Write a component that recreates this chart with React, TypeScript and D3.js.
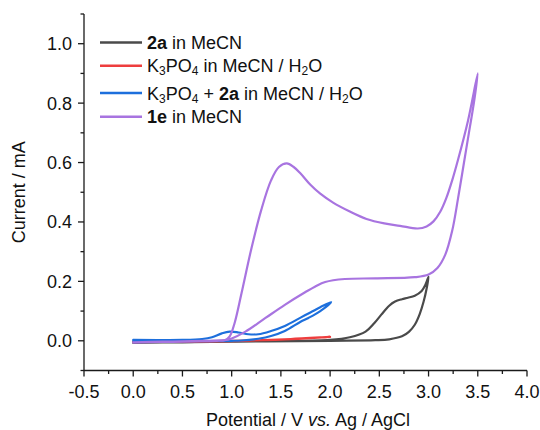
import React from "react";
import * as d3 from "d3";

// ---- data (potential V, current mA), in scan order ----
const xTicks = [-0.5, 0.0, 0.5, 1.0, 1.5, 2.0, 2.5, 3.0, 3.5, 4.0];
const yTicks = [0.0, 0.2, 0.4, 0.6, 0.8, 1.0];

const black2a: [number, number][] = [
  [0, -0.007], [0.5, -0.005], [1.0, -0.003], [1.5, -0.001], [2.0, 0.003], [2.2, 0.012],
  [2.36, 0.031], [2.45, 0.06], [2.52, 0.088], [2.6, 0.118], [2.66, 0.132], [2.73, 0.14],
  [2.79, 0.145], [2.86, 0.152], [2.93, 0.168], [2.97, 0.19], [3.0, 0.216],
  [2.98, 0.175], [2.95, 0.132], [2.91, 0.09], [2.86, 0.054], [2.8, 0.03], [2.73, 0.015],
  [2.6, 0.005], [2.46, 0.002], [2.0, 0.0], [1.0, -0.003], [0, -0.006],
];

const redK3PO4: [number, number][] = [
  [0, -0.004], [0.5, -0.003], [1.0, -0.001], [1.3, 0.002], [1.6, 0.006], [2.0, 0.013],
  [1.8, 0.009], [1.5, 0.004], [1.0, 0.0], [0.5, -0.002], [0, -0.003],
];

const blueMix: [number, number][] = [
  [0, 0.003], [0.5, 0.003], [0.7, 0.006], [0.8, 0.012], [0.9, 0.025], [0.98, 0.031],
  [1.07, 0.028], [1.17, 0.022], [1.27, 0.022], [1.4, 0.033], [1.54, 0.05], [1.7, 0.078],
  [1.78, 0.092], [1.9, 0.113], [2.01, 0.13],
  [1.9, 0.1], [1.78, 0.077], [1.7, 0.064], [1.54, 0.033], [1.4, 0.016], [1.27, 0.007],
  [1.1, 0.001], [1.0, 0.0], [0.5, -0.001], [0, 0.0],
];

const purple1e: [number, number][] = [
  [0, -0.006], [0.3, -0.004], [0.6, -0.002], [0.85, 0.0], [0.93, 0.002], [0.98, 0.015],
  [1.03, 0.06], [1.1, 0.16], [1.2, 0.31], [1.3, 0.44], [1.4, 0.54], [1.48, 0.585],
  [1.56, 0.597], [1.63, 0.585], [1.7, 0.563], [1.8, 0.525], [1.9, 0.495], [2.03, 0.465],
  [2.2, 0.435], [2.37, 0.41], [2.55, 0.395], [2.71, 0.387], [2.89, 0.378], [2.98, 0.385],
  [3.05, 0.402], [3.12, 0.435], [3.18, 0.48], [3.24, 0.54], [3.3, 0.61], [3.4, 0.74], [3.5, 0.9],
  [3.46, 0.8], [3.42, 0.72], [3.36, 0.6], [3.3, 0.48], [3.24, 0.37], [3.17, 0.29],
  [3.09, 0.245], [3.0, 0.223], [2.86, 0.214], [2.46, 0.21], [2.15, 0.208], [1.95, 0.198],
  [1.85, 0.183], [1.75, 0.164], [1.54, 0.121], [1.34, 0.076], [1.14, 0.031], [1.0, 0.008],
  [0.93, 0.002], [0.6, -0.001], [0.3, -0.003], [0, -0.005],
];

const seriesColors = ["#4a4a4a", "#ee3e3e", "#1d6fdc", "#a874e0"];
const seriesData = [black2a, redK3PO4, blueMix, purple1e];

const W = 540;
const H = 430;
const FONT = "'Liberation Sans', Arial, Helvetica, sans-serif";

const fmtTick = (t: number) => d3.format(".1f")(t).replace("\u2212", "-");

export default function App() {
  const x = d3.scaleLinear().domain([-0.5, 4.0]).range([84, 527]);
  const y = d3.scaleLinear().domain([-0.1, 1.1]).range([370.5, 14]);
  const line = d3
    .line<[number, number]>()
    .x((d) => x(d[0]))
    .y((d) => y(d[1]))
    .curve(d3.curveCatmullRom.alpha(0.5));

  const xMinor = d3.range(-0.25, 4.0, 0.5);
  const yMinor = d3.range(-0.1, 1.11, 0.2);

  const legendRows = [42.5, 65.8, 93, 116.7];
  const sub = (t: string) => (
    <tspan baselineShift="-28%" fontSize={12}>{t}</tspan>
  );
  const legendTexts = [
    <>
      <tspan fontWeight="bold">2a</tspan> in MeCN
    </>,
    <>
      K{sub("3")}PO{sub("4")}<tspan> in MeCN / H</tspan>{sub("2")}<tspan>O</tspan>
    </>,
    <>
      K{sub("3")}PO{sub("4")}<tspan> + </tspan><tspan fontWeight="bold">2a</tspan>
      <tspan> in MeCN / H</tspan>{sub("2")}<tspan>O</tspan>
    </>,
    <>
      <tspan fontWeight="bold">1e</tspan> in MeCN
    </>,
  ];

  const axisColor = "#1a1a1a";

  return (
    <div style={{ position: "absolute", left: 0, top: 0 }}>
      <svg width={W} height={H} style={{ display: "block", background: "#fff" }} fontFamily={FONT}>
        {/* curves */}
        <g fill="none" strokeWidth={2.2} strokeLinejoin="round" strokeLinecap="round">
          {seriesData.map((d, i) => (
            <path key={i} d={line(d) || ""} stroke={seriesColors[i]} />
          ))}
        </g>

        {/* axes */}
        <g stroke={axisColor} strokeWidth={1.3}>
          <line x1={x(-0.5)} x2={x(-0.5)} y1={y(1.1)} y2={y(-0.1)} />
          <line x1={x(-0.5)} x2={x(4.0)} y1={y(-0.1)} y2={y(-0.1)} />
          {xTicks.map((t) => (
            <line key={"xt" + t} x1={x(t)} x2={x(t)} y1={y(-0.1)} y2={y(-0.1) + 6} />
          ))}
          {xMinor.map((t) => (
            <line key={"xm" + t} x1={x(t)} x2={x(t)} y1={y(-0.1)} y2={y(-0.1) + 3.5} />
          ))}
          {yTicks.map((t) => (
            <line key={"yt" + t} x1={x(-0.5) - 6} x2={x(-0.5)} y1={y(t)} y2={y(t)} />
          ))}
          {yMinor.map((t) => (
            <line key={"ym" + t} x1={x(-0.5) - 3.5} x2={x(-0.5)} y1={y(t)} y2={y(t)} />
          ))}
        </g>

        <g fontSize={18} fill="#111">
          {xTicks.map((t) => (
            <text key={"xl" + t} x={x(t)} y={y(-0.1) + 27} textAnchor="middle">
              {fmtTick(t)}
            </text>
          ))}
          {yTicks.map((t) => (
            <text key={"yl" + t} x={x(-0.5) - 12} y={y(t) + 6.5} textAnchor="end">
              {fmtTick(t)}
            </text>
          ))}
        </g>

        {/* axis titles */}
        <text x={308} y={426} textAnchor="middle" fontSize={18} fill="#111">
          Potential / V <tspan fontStyle="italic">vs.</tspan> Ag / AgCl
        </text>
        <text
          transform={`translate(25, ${(y(1.1) + y(-0.1)) / 2}) rotate(-90)`}
          textAnchor="middle"
          fontSize={18}
          fill="#111"
        >
          Current / mA
        </text>

        {/* legend */}
        <g>
          {legendRows.map((ry, i) => (
            <g key={"lg" + i}>
              <line x1={100} x2={142} y1={ry} y2={ry} stroke={seriesColors[i]} strokeWidth={2.5} />
              <text x={147} y={ry + 6.5} fontSize={18} fill="#111">
                {legendTexts[i]}
              </text>
            </g>
          ))}
        </g>
      </svg>
    </div>
  );
}
